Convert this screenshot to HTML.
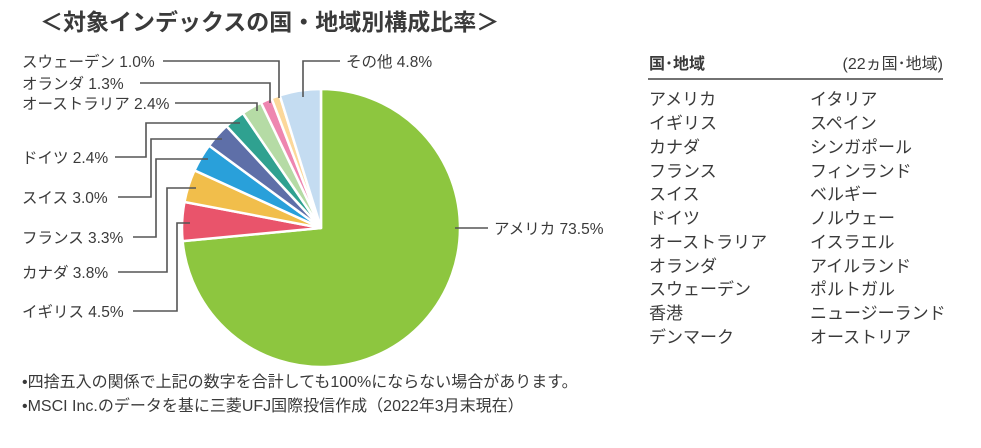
<!DOCTYPE html>
<html><head><meta charset="utf-8"><style>
body{margin:0;width:981px;height:448px;background:#fff;overflow:hidden;font-family:"Liberation Sans","Noto Sans CJK JP",sans-serif;color:#333}
svg{position:absolute;left:0;top:0}
text{font-family:"Liberation Sans","Noto Sans CJK JP",sans-serif;fill:#3a3a3a}
</style></head><body>
<svg width="981" height="448" viewBox="0 0 981 448">
<text x="40" y="30" font-size="23" font-weight="bold" fill="#222">＜対象インデックスの国・地域別構成比率＞</text>
<g id="pie" stroke="#fff" stroke-width="2.5"></g>
<g fill="none" stroke="#555" stroke-width="1.6">
<polyline points="163,61 279,61 279,98"/>
<polyline points="140,83 270,83 270,103"/>
<polyline points="175,103 257,103 257,111"/>
<polyline points="115,157 146,157 146,123 240,123"/>
<polyline points="118,197 151,197 151,139 222,139"/>
<polyline points="133,237 156,237 156,159 208,159"/>
<polyline points="118,272 167,272 167,188 196,188"/>
<polyline points="133,311 177,311 177,223 190,223"/>
<polyline points="340,61 303,61 303,97"/>
<polyline points="455,228 488,228"/>
</g>
<g font-size="15.5">
<text x="22" y="67">スウェーデン 1.0%</text>
<text x="22" y="89">オランダ 1.3%</text>
<text x="22" y="109">オーストラリア 2.4%</text>
<text x="22" y="163">ドイツ 2.4%</text>
<text x="22" y="203">スイス 3.0%</text>
<text x="22" y="243">フランス 3.3%</text>
<text x="22" y="278">カナダ 3.8%</text>
<text x="22" y="317">イギリス 4.5%</text>
<text x="346" y="67">その他 4.8%</text>
<text x="494" y="234">アメリカ 73.5%</text>
</g>
<text x="649" y="69" font-size="16" font-weight="bold" fill="#222">国･地域</text>
<text x="943" y="69" font-size="16" text-anchor="end">(22ヵ国･地域)</text>
<line x1="648" y1="79" x2="943" y2="79" stroke="#444" stroke-width="1.5"/>
<g font-size="17">
<text x="649" y="105">アメリカ</text><text x="810" y="105">イタリア</text>
<text x="649" y="129">イギリス</text><text x="810" y="129">スペイン</text>
<text x="649" y="153">カナダ</text><text x="810" y="153">シンガポール</text>
<text x="649" y="177">フランス</text><text x="810" y="177">フィンランド</text>
<text x="649" y="200">スイス</text><text x="810" y="200">ベルギー</text>
<text x="649" y="224">ドイツ</text><text x="810" y="224">ノルウェー</text>
<text x="649" y="248">オーストラリア</text><text x="810" y="248">イスラエル</text>
<text x="649" y="272">オランダ</text><text x="810" y="272">アイルランド</text>
<text x="649" y="295">スウェーデン</text><text x="810" y="295">ポルトガル</text>
<text x="649" y="319">香港</text><text x="810" y="319">ニュージーランド</text>
<text x="649" y="343">デンマーク</text><text x="810" y="343">オーストリア</text>
</g>
<g font-size="16">
<text x="22" y="387">•四捨五入の関係で上記の数字を合計しても100%にならない場合があります。</text>
<text x="22" y="411">•MSCI Inc.のデータを基に三菱UFJ国際投信作成（2022年3月末現在）</text>
</g>
</svg>
<script>
var d=[[73.5,"#8dc63f"],[4.5,"#e9546b"],[3.8,"#f1be4b"],[3.3,"#29a0da"],[3.0,"#5e6fa8"],[2.4,"#2fa190"],[2.4,"#b5dba5"],[1.3,"#ee86b0"],[1.0,"#fcd89a"],[4.8,"#c4dcf1"]];
var cx=321,cy=228,r=139,a=0,g=document.getElementById("pie"),s="";
d.forEach(function(p){var b=a+p[0]/100*2*Math.PI;
var x1=cx+r*Math.sin(a),y1=cy-r*Math.cos(a),x2=cx+r*Math.sin(b),y2=cy-r*Math.cos(b);
s+='<path d="M'+cx+','+cy+'L'+x1+','+y1+'A'+r+','+r+' 0 '+(b-a>Math.PI?1:0)+' 1 '+x2+','+y2+'Z" fill="'+p[1]+'"/>';a=b;});
g.innerHTML=s;
</script>
</body></html>
